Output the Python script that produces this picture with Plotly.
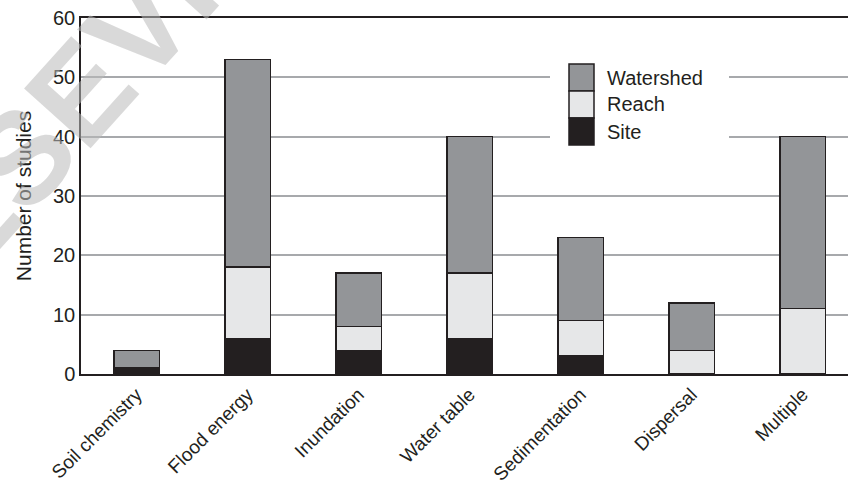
import plotly.graph_objects as go

categories = ["Soil chemistry", "Flood energy", "Inundation", "Water table",
              "Sedimentation", "Dispersal", "Multiple"]
site = [1, 6, 4, 6, 3, 0, 0]
reach = [0, 12, 4, 11, 6, 4, 11]
watershed = [3, 35, 9, 23, 14, 8, 29]
series_names = ["Site", "Reach", "Watershed"]
series_colors = ["#231f20", "#e6e7e8", "#939598"]
y_ticks = [0, 10, 20, 30, 40, 50, 60]

W, H = 848, 494
L, R, T, B = 81, 0, 18, 120
pw, ph = W - L - R, H - T - B

def px(x):
    return (x - L) / pw

def py(y):
    return (T + ph - y) / ph

font = "Liberation Sans, Arial, sans-serif"
ink = "#231f20"

fig = go.Figure()
for name, vals, col in zip(series_names, [site, reach, watershed], series_colors):
    fig.add_trace(go.Bar(
        x=categories, y=[v if v else None for v in vals], name=name, width=0.41,
        marker=dict(color=col, line=dict(color=ink, width=1.5)),
        showlegend=False,
    ))

shapes = [dict(type="rect", xref="paper", yref="paper",
               x0=px(550), x1=px(729), y0=py(150), y1=py(58),
               fillcolor="white", line=dict(width=0), layer="above")]
annotations = []
legend_order = ["Watershed", "Reach", "Site"]
for i, name in enumerate(legend_order):
    col = series_colors[series_names.index(name)]
    y0 = 64 + 27 * i
    shapes.append(dict(type="rect", xref="paper", yref="paper",
                       x0=px(569), x1=px(594), y0=py(y0 + 27), y1=py(y0),
                       fillcolor=col, line=dict(color=ink, width=1.5), layer="above"))
    annotations.append(dict(xref="paper", yref="paper", x=px(605), y=py(y0 + 13.5),
                            text=name, showarrow=False, xanchor="left", yanchor="middle",
                            font=dict(family=font, size=20, color=ink)))

annotations.append(dict(xref="paper", yref="paper", x=px(97), y=py(74),
                        text="<b>ELSEVIER</b>", showarrow=False, textangle=-48,
                        xanchor="center", yanchor="middle",
                        font=dict(family=font, size=130, color="rgba(185,185,185,0.55)")))

fig.update_layout(
    width=W, height=H,
    margin=dict(l=L, r=R, t=T, b=B),
    barmode="stack",
    plot_bgcolor="white", paper_bgcolor="white",
    shapes=shapes, annotations=annotations,
    font=dict(family=font, color=ink),
)
fig.update_xaxes(
    range=[-0.5, -0.5 + pw / 111.0],
    tickangle=-45, tickfont=dict(size=19, color=ink),
    showline=True, linecolor=ink, linewidth=2, mirror=True,
    showgrid=False, ticks="",
)
fig.update_yaxes(
    range=[0, 60], tickvals=y_ticks,
    tickfont=dict(size=20, color=ink),
    title=dict(text="Number of studies", font=dict(size=21, color=ink), standoff=16),
    showline=True, linecolor=ink, linewidth=1.5,
    showgrid=True, gridcolor="#a7a9ac", gridwidth=1.5,
    zeroline=False, ticks="",
)

fig.write_html("out.html", config={"displayModeBar": False},
               post_script="document.body.style.margin='0px';")
